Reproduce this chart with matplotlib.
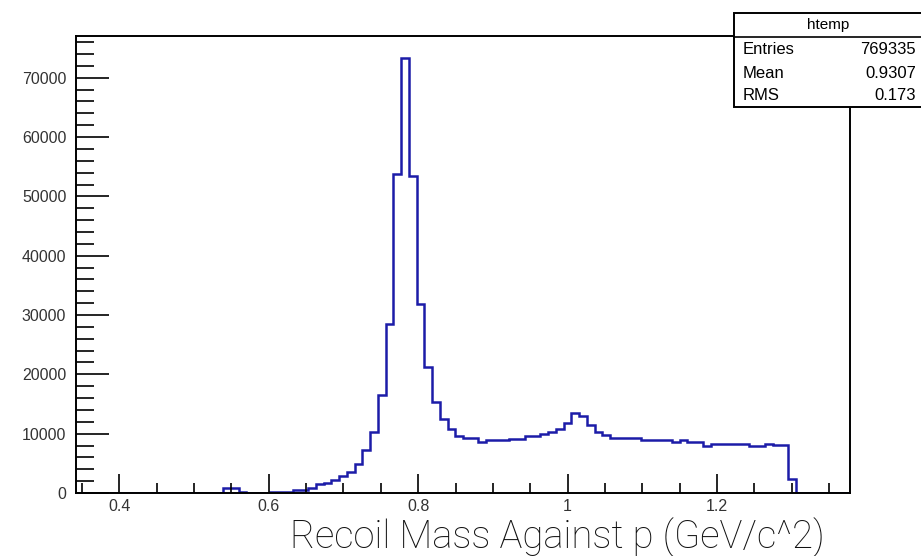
import numpy as np
import matplotlib
matplotlib.use("Agg")
import matplotlib.pyplot as plt
from matplotlib.patches import Rectangle
from matplotlib.ticker import MultipleLocator

# histogram "htemp": 100 bins over the axis range
x_min = 0.342
x_max = 1.378
n_bins = 100

counts = [0] * 19 + [
    900, 900, 250, 0, 0, 0,                                  # 19-24
    150, 200, 250, 450, 500,                                 # 25-29
    900, 1460, 1680, 2140, 2920, 3540, 4940, 7180, 10200,    # 30-38
    16560, 28500, 53750, 73370, 53460, 31870, 21200,         # 39-45
    15310, 12510, 10830, 9540, 9200, 9200, 8600, 8860,       # 46-53
    8860, 8860, 9140, 9140, 9540, 9540, 9980, 10260,         # 54-61
    10830, 11840, 13520, 12960, 11390, 10260, 9700,          # 62-68
    9250, 9250, 9250, 9250, 8950, 8950, 8950, 8950,          # 69-76
    8550, 8860, 8530, 8530, 7960, 8300, 8300, 8300,          # 77-84
    8300, 8300, 7960, 7960, 8300, 8080, 8080, 2300,          # 85-92
] + [0] * 7

stats_title = "htemp"
stats_names = ["Entries", "Mean", "RMS"]
stats_values = ["769335", "0.9307", "0.173"]
x_title = "Recoil Mass Against p (GeV/c^2)"

W, H = 921, 556
fig = plt.figure(figsize=(W / 100, H / 100), dpi=100)
ax = fig.add_axes([76 / W, 1 - 493 / H, (850 - 76) / W, (493 - 36) / H])

edges = np.linspace(x_min, x_max, n_bins + 1)
ax.stairs(counts, edges, color="#1c1ca8", linewidth=1.8, baseline=0)

ax.set_xlim(x_min, x_max)
ax.set_ylim(0, 1.05 * max(counts))

ax.xaxis.set_major_locator(MultipleLocator(0.2))
ax.xaxis.set_minor_locator(MultipleLocator(0.05))
ax.yaxis.set_major_locator(MultipleLocator(10000))
ax.yaxis.set_minor_locator(MultipleLocator(2000))
ax.xaxis.set_major_formatter(plt.FuncFormatter(lambda v, p: f"{v:g}"))

lab_col = "#333333"
ax.tick_params(axis="both", which="both", direction="in", color="black",
               labelcolor=lab_col, labelsize=11.5, width=1.2)
ax.tick_params(axis="x", which="major", length=14, pad=4)
ax.tick_params(axis="x", which="minor", length=7)
ax.tick_params(axis="y", which="major", length=24, pad=7)
ax.tick_params(axis="y", which="minor", length=13)
for lab in ax.get_xticklabels() + ax.get_yticklabels():
    lab.set_family("Liberation Sans")
for s in ax.spines.values():
    s.set_linewidth(1.4)

fig.text(825 / W, 1 - 548 / H, x_title, ha="right", va="baseline",
         fontsize=27.5, family="Roboto", fontweight="light", color="#111111")

# stats box
bx0, by0, bx1, by1 = 734, 13, 923, 107
fig.patches.append(Rectangle((bx0 / W, 1 - by1 / H), (bx1 - bx0) / W, (by1 - by0) / H,
                             transform=fig.transFigure, facecolor="white",
                             edgecolor="black", linewidth=1.4, zorder=5))
fig.lines.append(plt.Line2D([bx0 / W, bx1 / W], [1 - 36.5 / H] * 2,
                            transform=fig.transFigure, color="black", lw=1.2, zorder=6))
fig.text(828 / W, 1 - 25 / H, stats_title, ha="center", va="center", fontsize=11,
         family="Liberation Sans", zorder=7)
for i, (nm, vl) in enumerate(zip(stats_names, stats_values)):
    yy = 1 - (50 + 23 * i) / H
    fig.text(743 / W, yy, nm, ha="left", va="center", fontsize=12,
             family="Liberation Sans", zorder=7)
    fig.text(916 / W, yy, vl, ha="right", va="center", fontsize=12,
             family="Liberation Sans", zorder=7)

fig.savefig("out.png", dpi=100)
